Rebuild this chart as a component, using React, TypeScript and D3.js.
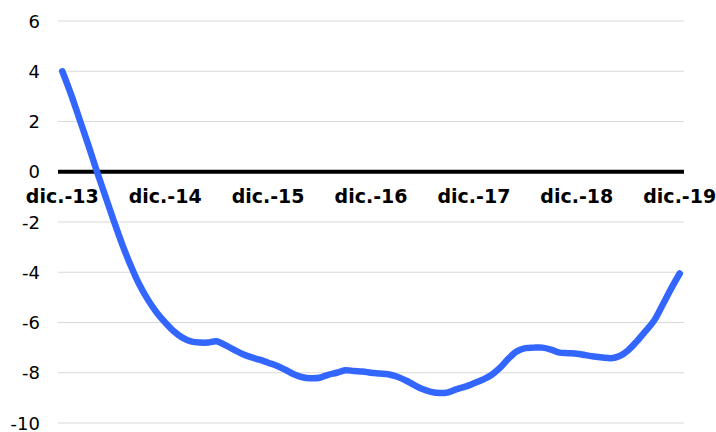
import { useMemo } from 'react';
import * as d3 from 'd3';

// monthly values, dic.-13 .. dic.-19 (73 points)
const values = [
  4.0, 3.1, 2.1, 1.1, 0.05, -0.95, -1.95, -2.9, -3.75, -4.5, -5.1, -5.6,
  -6.0, -6.35, -6.6, -6.75, -6.8, -6.8, -6.75, -6.9, -7.08, -7.25, -7.38, -7.48,
  -7.6, -7.72, -7.88, -8.06, -8.18, -8.22, -8.2, -8.08, -8.0, -7.9, -7.93, -7.95,
  -8.0, -8.03, -8.06, -8.15, -8.3, -8.48, -8.65, -8.76, -8.81, -8.78, -8.65, -8.55,
  -8.42, -8.28, -8.1, -7.82, -7.45, -7.15, -7.02, -7.0, -7.0, -7.08, -7.2, -7.22,
  -7.24, -7.3, -7.35, -7.39, -7.42, -7.33, -7.1, -6.75, -6.35, -5.93, -5.3, -4.65,
  -4.05,
];

const yearLabels = ['dic.-13', 'dic.-14', 'dic.-15', 'dic.-16', 'dic.-17', 'dic.-18', 'dic.-19'];
const yTicks = [6, 4, 2, 0, -2, -4, -6, -8, -10];

const WIDTH = 716;
const HEIGHT = 432;
const FONT = 'Verdana, "DejaVu Sans", sans-serif';

export default function App() {
  const x = useMemo(
    () => d3.scalePoint<number>().domain(values.map((_, i) => i)).range([58, 684]).padding(0.5),
    []
  );
  const y = useMemo(() => d3.scaleLinear().domain([-10, 6]).range([423, 21]), []);

  const path = useMemo(() => {
    const line = d3
      .line<number>()
      .x((_, i) => x(i) as number)
      .y((v) => y(v))
      .curve(d3.curveCatmullRom.alpha(0.5));
    return line(values) || '';
  }, [x, y]);

  return (
    <svg
      width={WIDTH}
      height={HEIGHT}
      style={{ position: 'fixed', left: 0, top: 0, background: '#fff' }}
      fontFamily={FONT}
    >
      {yTicks.map((t) => (
        <g key={t}>
          {t !== 0 ? <line x1={58} x2={684} y1={y(t)} y2={y(t)} stroke="#d9d9d9" strokeWidth={1} /> : null}
          <text x={40} y={y(t)} textAnchor="end" dominantBaseline="central" fontSize={18} fill="#000">
            {t}
          </text>
        </g>
      ))}

      <line x1={58} x2={684} y1={y(0)} y2={y(0)} stroke="#000" strokeWidth={4} />

      {yearLabels.map((label, k) => (
        <text key={label} x={x(k * 12)} y={203} textAnchor="middle" fontSize={19} fontWeight="bold" fill="#000">
          {label}
        </text>
      ))}

      <path d={path} fill="none" stroke="#3366ff" strokeWidth={6.5} strokeLinecap="round" strokeLinejoin="round" />
    </svg>
  );
}
